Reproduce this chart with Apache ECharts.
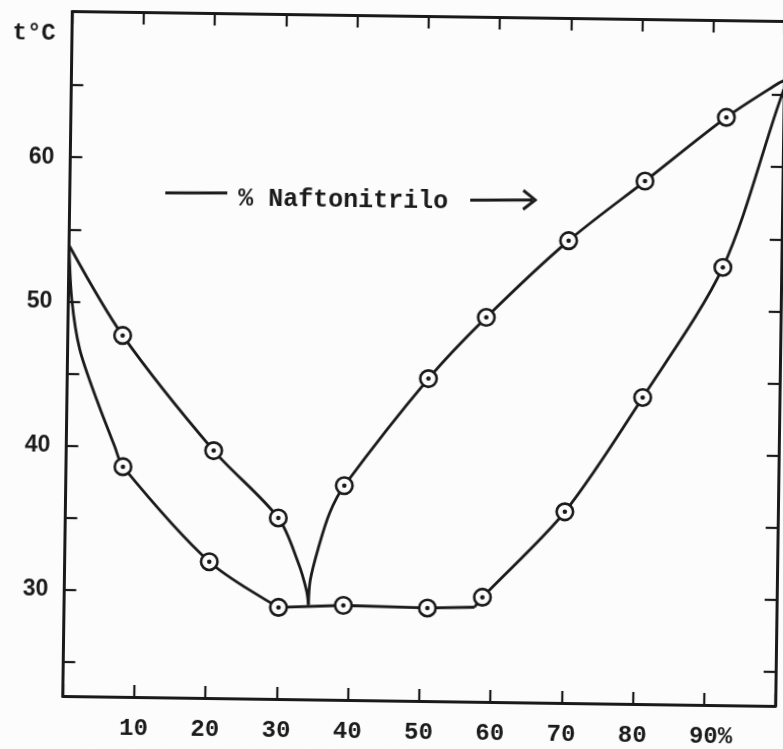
<!DOCTYPE html>
<html>
<head>
<meta charset="utf-8">
<title>Naftonitrilo – diagrama de fases</title>
<script src="https://cdn.jsdelivr.net/npm/echarts@6/dist/echarts.min.js"></script>
<style>
  html, body { margin: 0; padding: 0; background: #fcfcfc; overflow: hidden; }
  /* the original sheet sits slightly skewed on the page */
  #chart { width: 783px; height: 749px; transform: rotate(0.8deg); transform-origin: 424px 359px; }
</style>
</head>
<body>
<div id="chart"></div>
<script>
// % naftonitrilo (x) and temperature in °C (y)

// measured mixtures: upper curve (start of crystallisation)
const liquidusPoints = [[7.7,47.7],[20.7,39.8],[29.9,35.2],[39.1,37.5],[50.7,45.0],[58.7,49.3],[70.1,54.7],[80.7,58.9],[92.0,63.4]];
// measured mixtures: lower curve (end of melting)
const solidusPoints = [[8.0,38.6],[20.3,32.1],[30.1,29.0],[39.2,29.2],[51.0,29.1],[58.7,29.9],[70.1,35.9],[80.8,43.9],[91.8,53.0]];

// eutectic point where both liquidus branches meet
const eutectic = [34.3, 29.2];
// extra points along the drawn curves (between the measured mixtures)
const liquidusLeftTrace = [[0,53.9],[32.8,32.1],[34.0,30.2]];
const liquidusRightTrace = [[34.5,30.9],[35.6,33.2],[37.1,35.6],[99.2,65.8],[100,66.0]];
const solidusLeftTrace = [[0,53.9],[0.5,50.1],[1.7,46.7],[4.2,43.2],[6.8,40.0]];
const solidusKink = [57.6, 29.2];
const solidusRightTrace = [[99.2,64.2],[100,65.4]];

// axis ticks
const xTicks = [10,20,30,40,50,60,70,80,90];
const yTickValues = [25,30,35,40,45,50,55,60,65];
const yLabelValues = [30,40,50,60];

const byX = (a, b) => a[0] - b[0];
const liquidusLeft = [...liquidusLeftTrace, ...liquidusPoints.filter(p => p[0] < eutectic[0]), eutectic].sort(byX);
const liquidusRight = [eutectic, ...liquidusRightTrace, ...liquidusPoints.filter(p => p[0] > eutectic[0])].sort(byX);
const solidusLeft = [...solidusLeftTrace, ...solidusPoints.filter(p => p[0] <= 30.1)].sort(byX);
const solidusFlat = [...solidusPoints.filter(p => p[0] >= 30.1 && p[0] < solidusKink[0]), solidusKink].sort(byX);
const solidusRight = [solidusKink, ...solidusPoints.filter(p => p[0] > solidusKink[0]), ...solidusRightTrace].sort(byX);

const INK = '#1a1a1a';
const MONO = '"Liberation Mono", "DejaVu Sans Mono", monospace';

const lineSeries = (data, smooth) => ({
  type: 'line', data, smooth, symbol: 'none', showSymbol: false,
  lineStyle: { color: INK, width: 2.8 }, z: 2, silent: true, clip: true
});
const ring = data => ({
  type: 'scatter', data, symbol: 'circle', symbolSize: 16.5,
  itemStyle: { color: '#fcfcfc', borderColor: INK, borderWidth: 2.6, opacity: 1 }, z: 3
});
const dot = data => ({
  type: 'scatter', data, symbol: 'circle', symbolSize: 4.5,
  itemStyle: { color: INK, opacity: 1 }, z: 4
});

const chart = echarts.init(document.getElementById('chart'), null, { renderer: 'canvas' });
chart.setOption({
  animation: false,
  backgroundColor: '#fcfcfc',
  grid: { left: 67.5, top: 16.5, width: 717.5, height: 684.5 },
  xAxis: [
    {
      type: 'value', position: 'bottom', min: 0, max: 100, interval: 10,
      axisLine: { lineStyle: { color: INK, width: 3 } },
      axisTick: { inside: true, length: 12, lineStyle: { color: INK, width: 2.2 } },
      splitLine: { show: false },
      axisLabel: {
        margin: 20, color: INK, fontFamily: MONO, fontWeight: 'bold', fontSize: 24,
        formatter: v => (v === 0 || v === 100) ? '' : (v === 90 ? '{g|}90%' : String(v)),
        rich: { g: { width: 14 } }
      }
    },
    {
      type: 'value', position: 'top', min: 0, max: 100, interval: 10,
      axisLine: { onZero: false, lineStyle: { color: INK, width: 3 } },
      axisTick: { inside: true, length: 12, lineStyle: { color: INK, width: 2.2 } },
      axisLabel: { show: false }, splitLine: { show: false }
    }
  ],
  yAxis: [
    {
      type: 'value', position: 'left', min: 22.65, max: 70.1,
      axisLine: { show: true, onZero: false, lineStyle: { color: INK, width: 3 } },
      axisTick: { show: true, inside: true, length: 12, customValues: yTickValues, lineStyle: { color: INK, width: 2.2 } },
      axisLabel: { margin: 16, color: INK, fontFamily: '"Liberation Sans", Arial, sans-serif', fontWeight: 'bold', fontSize: 23, customValues: yLabelValues },
      splitLine: { show: false }
    },
    {
      type: 'value', position: 'right', min: 22.65, max: 70.1,
      axisLine: { show: true, onZero: false, lineStyle: { color: INK, width: 3 } },
      axisTick: { show: true, inside: true, length: 12, customValues: yTickValues, lineStyle: { color: INK, width: 2.2 } },
      axisLabel: { show: false }, splitLine: { show: false }
    }
  ],
  graphic: [
    { type: 'text', left: 8, top: 27, style: { text: 't°C', font: 'bold 24px ' + MONO, fill: INK } },
    { type: 'line', shape: { x1: 163, y1: 196.5, x2: 225, y2: 195.7 }, style: { stroke: INK, lineWidth: 3 } },
    { type: 'text', x: 236, y: 201.5, style: { text: '% Naftonitrilo', font: 'bold 25px ' + MONO, fill: INK, verticalAlign: 'middle' } },
    { type: 'line', shape: { x1: 468, y1: 199.4, x2: 530, y2: 198.5 }, style: { stroke: INK, lineWidth: 3 } },
    { type: 'polyline', shape: { points: [[521, 189], [533, 198.4], [521, 208]] }, style: { stroke: INK, lineWidth: 3, fill: null } }
  ],
  series: [
    lineSeries(liquidusLeft, 0.3),
    lineSeries(liquidusRight, 0.3),
    lineSeries(solidusLeft, 0.3),
    lineSeries(solidusFlat, false),
    lineSeries(solidusRight, 0.3),
    ring(liquidusPoints), ring(solidusPoints),
    dot(liquidusPoints), dot(solidusPoints)
  ]
});
</script>
</body>
</html>
